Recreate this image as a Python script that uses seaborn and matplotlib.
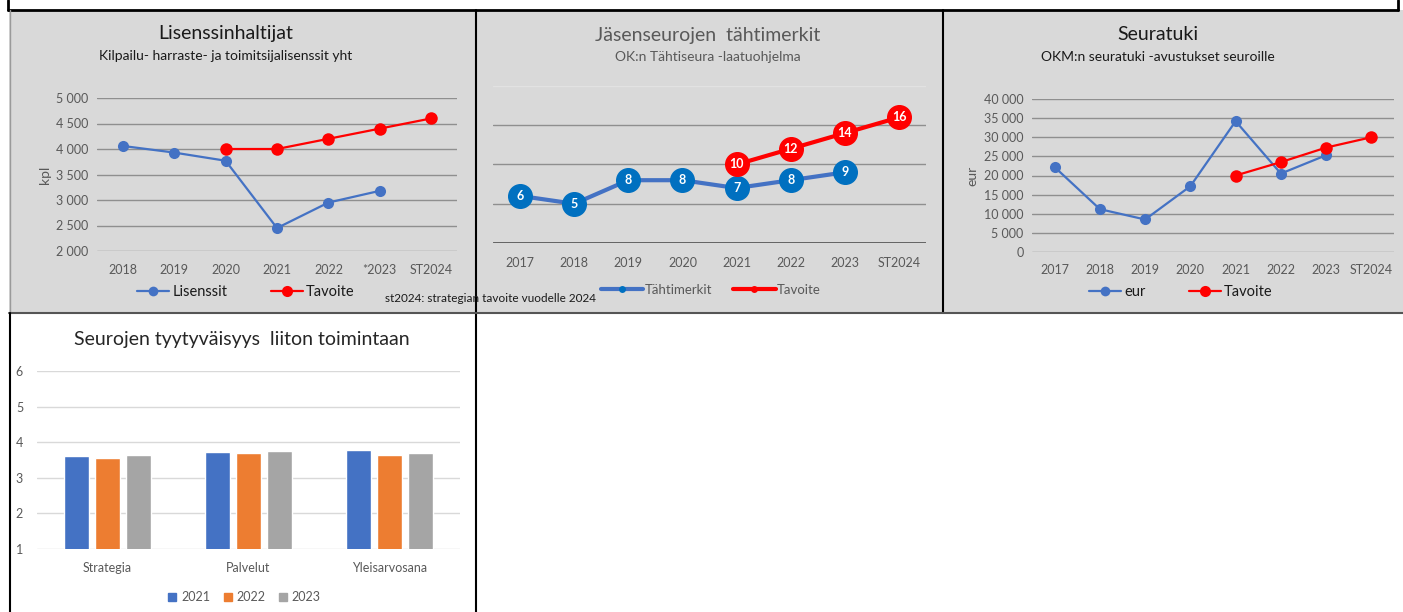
import numpy as np
import pandas as pd
import seaborn as sns
import matplotlib.pyplot as plt
from matplotlib.patches import Rectangle
from matplotlib.lines import Line2D
from matplotlib.ticker import FuncFormatter

# --- data -------------------------------------------------------------
lis_years = ['2018', '2019', '2020', '2021', '2022', '*2023', 'ST2024']
lisenssit = [4060, 3930, 3770, 2450, 2950, 3180, np.nan]
lis_tavoite = [np.nan, np.nan, 4000, 4000, 4200, 4400, 4600]

star_years = ['2017', '2018', '2019', '2020', '2021', '2022', '2023', 'ST2024']
tahtimerkit = [6, 5, 8, 8, 7, 8, 9, np.nan]
star_tavoite = [np.nan, np.nan, np.nan, np.nan, 10, 12, 14, 16]

tuki_years = ['2017', '2018', '2019', '2020', '2021', '2022', '2023', 'ST2024']
seuratuki_eur = [22200, 11200, 8500, 17200, 34200, 20500, 25300, np.nan]
tuki_tavoite = [np.nan, np.nan, np.nan, np.nan, 20000, 23500, 27300, 30000]

sat_categories = ['Strategia', 'Palvelut', 'Yleisarvosana']
sat_years = ['2021', '2022', '2023']
sat_2021 = [3.60, 3.73, 3.78]
sat_2022 = [3.55, 3.70, 3.65]
sat_2023 = [3.65, 3.76, 3.70]

# --- style ------------------------------------------------------------
BG = '#d9d9d9'
BLUE = '#4472C4'
RED = '#FF0000'
DARKBLUE = '#0070C0'
TICK = '#595959'
GRID = '#8f8f8f'

sns.set_theme(style='white')
plt.rcParams['font.family'] = ['Lato', 'DejaVu Sans']

W, H = 1403, 612
fig = plt.figure(figsize=(W / 100, H / 100), dpi=100)


def box(x0, y0, x1, y1):
    # pixel box (top-left origin) -> figure fraction rect
    return [x0 / W, 1 - y1 / H, (x1 - x0) / W, (y1 - y0) / H]


def fline(xs, ys, color='black', lw=1.5):
    fig.add_artist(Line2D([x / W for x in xs], [1 - y / H for y in ys],
                          transform=fig.transFigure, color=color, lw=lw, zorder=5))


def thousands(v, p):
    return f'{v:,.0f}'.replace(',', ' ')


# panel backgrounds
for x0, x1 in [(9, 476), (476, 943), (943, 1403)]:
    fig.add_artist(Rectangle((x0 / W, 1 - 312 / H), (x1 - x0) / W, 302 / H,
                             transform=fig.transFigure, facecolor=BG,
                             edgecolor='none', zorder=0))

# frame lines
fline([8, 8], [0, 10], lw=2)
fline([8, 1398], [9.5, 9.5], lw=2)
fline([1398, 1398], [0, 10], lw=2)
fline([9.5, 9.5], [10, 312], color='#9a9a9a', lw=1)
fline([476, 476], [10, 612], lw=1.5)
fline([943, 943], [10, 313], lw=1.5)
fline([9, 1403], [312.5, 312.5], color='#555555', lw=1.5)
fline([9.5, 9.5], [313, 612], lw=1.5)


def style_axes(ax, ncat):
    ax.set_facecolor('none')
    for s in ax.spines.values():
        s.set_visible(False)
    ax.set_xlim(-0.5, ncat - 0.5)
    ax.tick_params(axis='both', length=0, colors=TICK, labelsize=9, pad=6)
    ax.tick_params(axis='x', pad=9)
    ax.set_xlabel('')


# --- panel 1: Lisenssinhaltijat ---------------------------------------
ax1 = fig.add_axes(box(97, 98, 457, 251))
x1 = np.arange(len(lis_years))
ax1.set_yticks(range(2000, 5001, 500))
ax1.yaxis.grid(True, color=GRID, lw=1)
ax1.set_axisbelow(True)
sns.lineplot(x=x1, y=lisenssit, ax=ax1, color=BLUE, marker='o', markersize=8,
             markeredgewidth=0, linewidth=1.6, sort=False)
sns.lineplot(x=x1, y=lis_tavoite, ax=ax1, color=RED, marker='o', markersize=9,
             markeredgewidth=0, linewidth=1.6, sort=False)
style_axes(ax1, len(lis_years))
ax1.set_ylim(2000, 5000)
ax1.set_xticks(x1)
ax1.set_xticklabels(lis_years)
ax1.yaxis.set_major_formatter(FuncFormatter(thousands))
ax1.set_ylabel('kpl', color=TICK, fontsize=10, labelpad=4)
fig.text(226 / W, 1 - 34 / H, 'Lisenssinhaltijat', ha='center', va='center',
         fontsize=14, color='#1a1a1a')
fig.text(226 / W, 1 - 56 / H, 'Kilpailu- harraste- ja toimitsijalisenssit yht',
         ha='center', va='center', fontsize=10, color='#1a1a1a')
h1 = [Line2D([], [], color=BLUE, marker='o', markersize=7, lw=1.6, markeredgewidth=0),
      Line2D([], [], color=RED, marker='o', markersize=8, lw=1.6, markeredgewidth=0)]
ax1.legend(h1, ['Lisenssit', 'Tavoite'], loc='center', ncol=2, frameon=False,
           bbox_to_anchor=(246 / W, 1 - 292 / H), bbox_transform=fig.transFigure,
           fontsize=10.5, handlelength=2.2, handletextpad=0.2, columnspacing=3.0,
           labelcolor='#1a1a1a')

# --- panel 2: Jäsenseurojen tähtimerkit --------------------------------
ax2 = fig.add_axes(box(493, 86, 926, 243))
x2 = np.arange(len(star_years))
for gy, gc in [(5, GRID), (10, GRID), (15, GRID), (20, '#e2e2e2')]:
    ax2.axhline(gy, color=gc, lw=1, zorder=0)
ax2.axhline(0, color='#595959', lw=2, zorder=1)
sns.lineplot(x=x2, y=tahtimerkit, ax=ax2, color=BLUE, linewidth=3, sort=False)
sns.lineplot(x=x2, y=star_tavoite, ax=ax2, color=RED, linewidth=3, sort=False)
ax2.plot(x2, tahtimerkit, 'o', color=DARKBLUE, markersize=17, zorder=4)
ax2.plot(x2, star_tavoite, 'o', color=RED, markersize=17, zorder=4)
for xi, v in zip(x2, tahtimerkit):
    if not np.isnan(v):
        ax2.text(xi, v, f'{v:.0f}', ha='center', va='center', color='white',
                 fontsize=9, fontweight='bold', zorder=6)
for xi, v in zip(x2, star_tavoite):
    if not np.isnan(v):
        ax2.text(xi, v, f'{v:.0f}', ha='center', va='center', color='white',
                 fontsize=9, fontweight='bold', zorder=6)
style_axes(ax2, len(star_years))
ax2.set_ylim(0, 20)
ax2.set_yticks([])
ax2.set_xticks(x2)
ax2.set_xticklabels(star_years)
ax2.tick_params(axis='x', pad=10)
fig.text(708 / W, 1 - 35 / H, 'Jäsenseurojen  tähtimerkit', ha='center', va='center',
         fontsize=14, color=TICK)
fig.text(708 / W, 1 - 57 / H, 'OK:n Tähtiseura -laatuohjelma', ha='center',
         va='center', fontsize=10, color=TICK)
h2 = [Line2D([], [], color=BLUE, marker='o', markersize=5, lw=3,
             markerfacecolor=DARKBLUE, markeredgewidth=0),
      Line2D([], [], color=RED, marker='o', markersize=5, lw=3, markeredgewidth=0)]
ax2.legend(h2, ['Tähtimerkit', 'Tavoite'], loc='center', ncol=2, frameon=False,
           bbox_to_anchor=(711 / W, 1 - 290 / H), bbox_transform=fig.transFigure,
           fontsize=9.5, handlelength=3.2, handletextpad=0.1, columnspacing=1.6,
           labelcolor=TICK)

# --- panel 3: Seuratuki ------------------------------------------------
ax3 = fig.add_axes(box(1032, 99, 1394, 252))
x3 = np.arange(len(tuki_years))
ax3.set_yticks(range(0, 40001, 5000))
ax3.yaxis.grid(True, color=GRID, lw=1)
ax3.set_axisbelow(True)
sns.lineplot(x=x3, y=seuratuki_eur, ax=ax3, color=BLUE, marker='o', markersize=8,
             markeredgewidth=0, linewidth=1.6, sort=False)
sns.lineplot(x=x3, y=tuki_tavoite, ax=ax3, color=RED, marker='o', markersize=9,
             markeredgewidth=0, linewidth=1.6, sort=False)
style_axes(ax3, len(tuki_years))
ax3.set_ylim(0, 40000)
ax3.set_xticks(x3)
ax3.set_xticklabels(tuki_years)
ax3.yaxis.set_major_formatter(FuncFormatter(thousands))
ax3.set_ylabel('eur', color=TICK, fontsize=10, labelpad=4)
fig.text(1158 / W, 1 - 35 / H, 'Seuratuki', ha='center', va='center',
         fontsize=14, color='#1a1a1a')
fig.text(1158 / W, 1 - 57 / H, 'OKM:n seuratuki -avustukset seuroille',
         ha='center', va='center', fontsize=10, color='#1a1a1a')
ax3.legend(h1, ['eur', 'Tavoite'], loc='center', ncol=2, frameon=False,
           bbox_to_anchor=(1181 / W, 1 - 292 / H), bbox_transform=fig.transFigure,
           fontsize=10.5, handlelength=2.2, handletextpad=0.2, columnspacing=3.0,
           labelcolor='#1a1a1a')

# --- panel 4: Seurojen tyytyväisyys -------------------------------------
ax4 = fig.add_axes(box(37, 371, 460, 549))
sat_df = pd.DataFrame({
    'osa': sat_categories * 3,
    'vuosi': [y for y in sat_years for _ in sat_categories],
    'arvo': sat_2021 + sat_2022 + sat_2023,
})
ax4.set_yticks(range(1, 7))
ax4.yaxis.grid(True, color='#d9d9d9', lw=1)
ax4.set_axisbelow(True)
sns.barplot(data=sat_df, x='osa', y='arvo', hue='vuosi', ax=ax4,
            palette=[BLUE, '#ED7D31', '#A5A5A5'], width=0.66, gap=0.22,
            saturation=1, legend=False, errorbar=None)
for s in ax4.spines.values():
    s.set_visible(False)
ax4.set_ylim(1, 6)
ax4.set_xlim(-0.5, 2.5)
ax4.set_xlabel('')
ax4.set_ylabel('')
ax4.tick_params(axis='both', length=0, colors=TICK, labelsize=9, pad=9)
ax4.tick_params(axis='y', pad=10)
fig.text(242 / W, 1 - 339 / H, 'Seurojen tyytyväisyys  liiton toimintaan',
         ha='center', va='center', fontsize=14, color='#262626')
h4 = [Line2D([], [], color=c, marker='s', lw=0, markersize=6)
      for c in [BLUE, '#ED7D31', '#A5A5A5']]
ax4.legend(h4, sat_years, loc='center', ncol=3, frameon=False,
           bbox_to_anchor=(244 / W, 1 - 597 / H), bbox_transform=fig.transFigure,
           fontsize=9, handlelength=0.8, handletextpad=0.3, columnspacing=1.0,
           labelcolor=TICK)

# footnote spanning the first two panels
fig.text(385 / W, 1 - 298 / H, 'st2024: strategian tavoite vuodelle 2024',
         ha='left', va='center', fontsize=8.5, color='#1a1a1a', zorder=6)

fig.savefig('out.png', dpi=100)
